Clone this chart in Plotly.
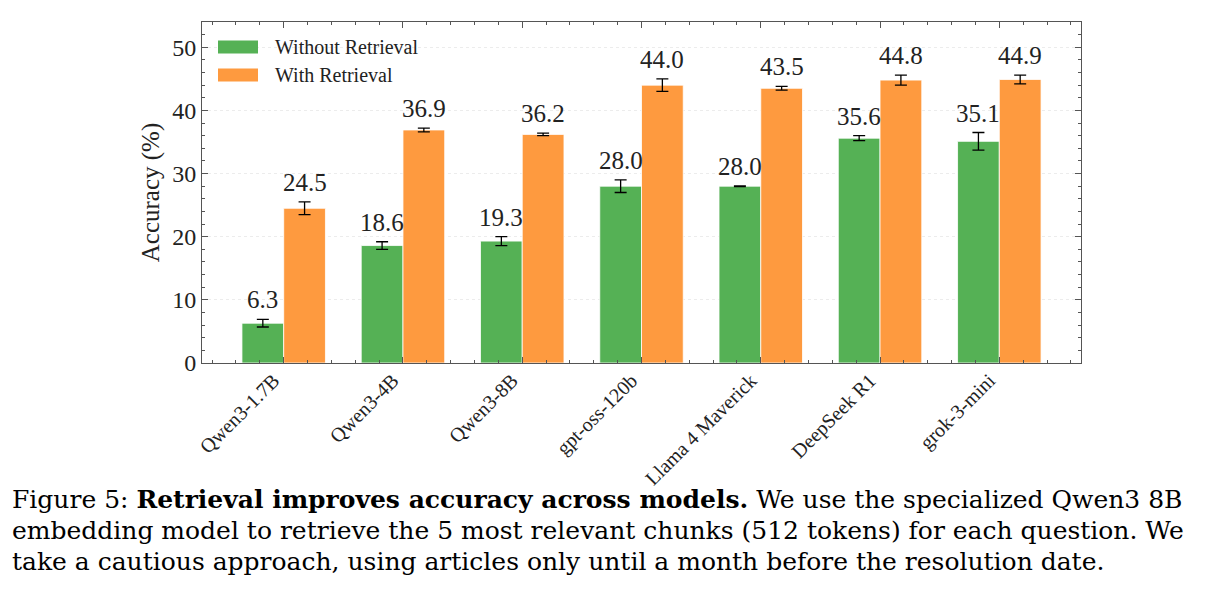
import plotly.graph_objects as go

models = ["Qwen3-1.7B", "Qwen3-4B", "Qwen3-8B", "gpt-oss-120b", "Llama 4 Maverick", "DeepSeek R1", "grok-3-mini"]
without_ret = [6.3, 18.6, 19.3, 28.0, 28.0, 35.6, 35.1]
without_err = [0.6, 0.6, 0.7, 1.0, 0.05, 0.4, 1.4]
with_ret = [24.5, 36.9, 36.2, 44.0, 43.5, 44.8, 44.9]
with_err = [1.0, 0.3, 0.2, 1.0, 0.3, 0.8, 0.7]
series_names = ["Without Retrieval", "With Retrieval"]
colors = ["#55b155", "#fe9a3f"]

FONT = "Liberation Serif"
CAPFONT = "DejaVu Serif"
L, R, T, B = 202, 1081, 22, 363
W, H = 1219, 598
PW, PH = R - L, B - T

def px_x(x):
    return (x - L) / PW

def px_y(y):
    return (B - y) / PH

xs = list(range(len(models)))
bw = 0.35
fig = go.Figure()
for name, vals, errs, col, off in [
    (series_names[0], without_ret, without_err, colors[0], -bw / 2),
    (series_names[1], with_ret, with_err, colors[1], bw / 2),
]:
    fig.add_trace(go.Bar(
        x=[x + off for x in xs], y=vals, width=bw, name=name,
        marker=dict(color=col, line=dict(color="white", width=0.8)),
        error_y=dict(type="data", array=errs, visible=True, color="black", thickness=1.3, width=6),
        showlegend=False,
    ))
    for x, v, e in zip(xs, vals, errs):
        fig.add_annotation(x=x + off, y=v + e, text=f"{v:.1f}", showarrow=False,
                           yanchor="bottom", yshift=4,
                           font=dict(family=FONT, size=25, color="#222"))

# legend
leg = [(47, series_names[0], colors[0]), (75, series_names[1], colors[1])]
for yc, name, col in leg:
    fig.add_shape(type="rect", xref="paper", yref="paper",
                  x0=px_x(218), x1=px_x(258), y0=px_y(yc + 6.5), y1=px_y(yc - 6.5),
                  fillcolor=col, line=dict(width=0))
    fig.add_annotation(xref="paper", yref="paper", x=px_x(273), y=px_y(yc), text=name,
                       showarrow=False, xanchor="left", yanchor="middle",
                       font=dict(family=FONT, size=20, color="#222"))

# caption
cap = [
    (499, "Figure 5: <b>Retrieval improves accuracy across models.</b> We use the specialized Qwen3 8B"),
    (530, "embedding model to retrieve the 5 most relevant chunks (512 tokens) for each question. We"),
    (561, "take a cautious approach, using articles only until a month before the resolution date."),
]
for yc, t in cap:
    fig.add_annotation(xref="paper", yref="paper", x=px_x(10), y=px_y(yc), text=t,
                       showarrow=False, xanchor="left", yanchor="middle",
                       font=dict(family=CAPFONT, size=25, color="black"))

axis_common = dict(showline=True, linecolor="#555", linewidth=1, mirror="ticks",
                   ticks="inside", tickcolor="#555", zeroline=False)
fig.update_layout(
    width=W, height=H, margin=dict(l=L, r=W - R, t=T, b=H - B),
    plot_bgcolor="white", paper_bgcolor="white", barmode="overlay",
    font=dict(family=FONT, color="#222"),
    xaxis=dict(range=[-0.685, 6.685], tickmode="array", tickvals=xs, ticktext=models,
               tickangle=-45, tickfont=dict(family=FONT, size=20, color="#222"), ticklen=6,
               ticklabelshift=-10, ticklabelstandoff=-3,
               showgrid=False,
               minor=dict(ticks="inside", dtick=0.2, tick0=0, ticklen=3, tickcolor="#555", showgrid=False),
               **axis_common),
    yaxis=dict(range=[0, 54], dtick=10, tickfont=dict(family=FONT, size=24, color="#222"), ticklen=6,
               showgrid=True, gridcolor="#ececec", griddash="dot", gridwidth=1,
               minor=dict(ticks="inside", dtick=2, ticklen=3, tickcolor="#555", showgrid=False),
               title=dict(text="Accuracy (%)", font=dict(family=FONT, size=25, color="#222"), standoff=5),
               **axis_common),
)
fig.write_html("out.html")
